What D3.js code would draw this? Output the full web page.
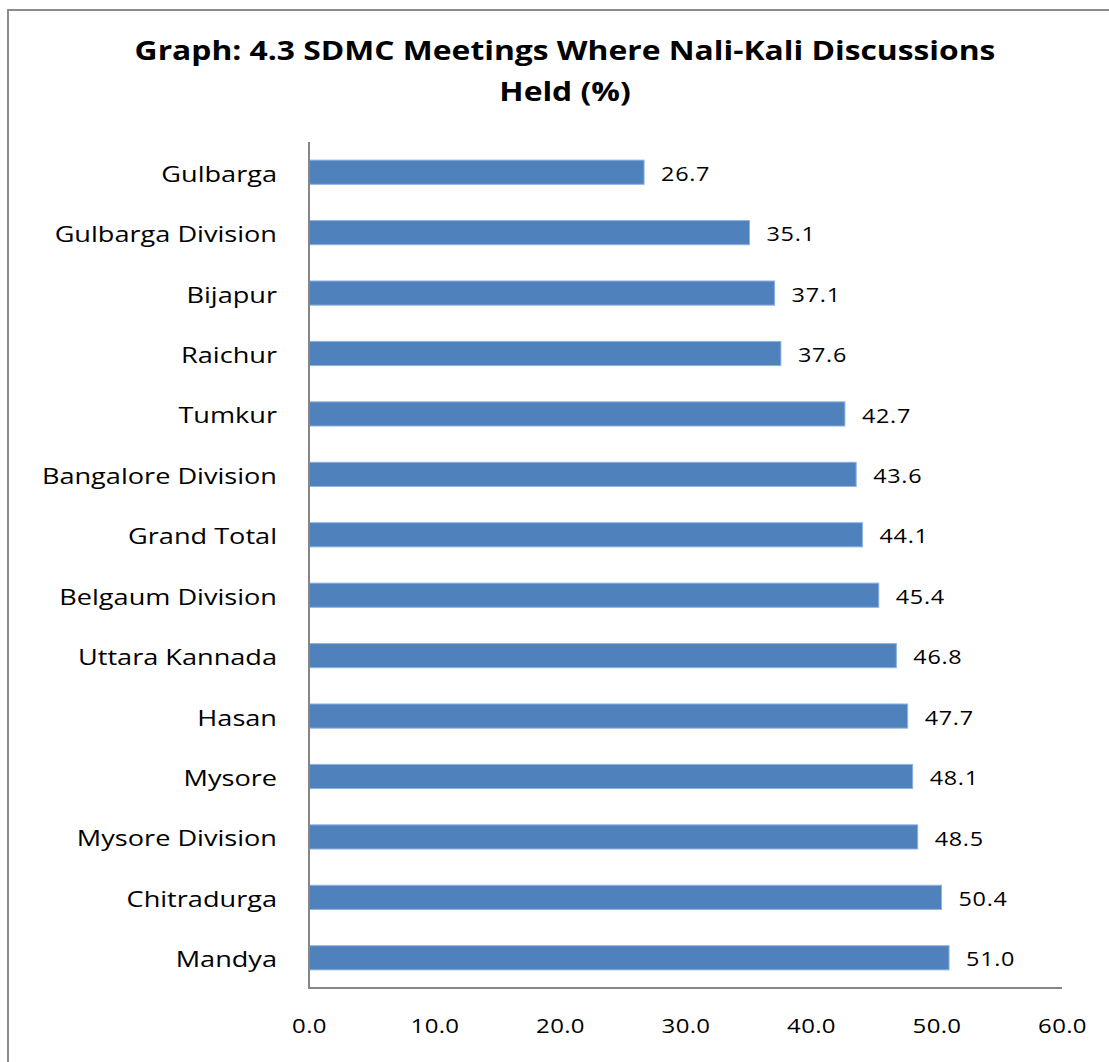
<!DOCTYPE html>
<html>
<head>
<meta charset="utf-8">
<script src="https://cdn.jsdelivr.net/npm/d3@7"></script>
<style>
  html, body { margin: 0; padding: 0; background: #fff; }
  svg { display: block; }
  text { font-family: "Open Sans", "Noto Sans", sans-serif; fill: #000; }
</style>
</head>
<body>
<script>
// SDMC meetings in which Nali-Kali was discussed, by district / division (%)
const districts = [
  "Gulbarga", "Gulbarga Division", "Bijapur", "Raichur", "Tumkur",
  "Bangalore Division", "Grand Total", "Belgaum Division", "Uttara Kannada",
  "Hasan", "Mysore", "Mysore Division", "Chitradurga", "Mandya"
];
const shares = [26.7, 35.1, 37.1, 37.6, 42.7, 43.6, 44.1, 45.4, 46.8, 47.7, 48.1, 48.5, 50.4, 51.0];
const xTicks = [0, 10, 20, 30, 40, 50, 60];
const titleLines = ["Graph: 4.3 SDMC Meetings Where Nali-Kali Discussions", "Held (%)"];

const W = 1109, H = 1062;
const plot = { left: 309, right: 1062, top: 142, bottom: 988 };
// all lettering is drawn slightly widened
const stretch = 1.2;
const wide = `scale(${stretch},1)`;

const svg = d3.select("body").append("svg")
  .attr("width", W).attr("height", H);

// chart frame (runs off the right and bottom edges)
svg.append("rect")
  .attr("x", 8).attr("y", 10)
  .attr("width", W + 20).attr("height", H + 20)
  .attr("fill", "#fff").attr("stroke", "#8c8c8c").attr("stroke-width", 2);

// title
svg.append("g").selectAll("text").data(titleLines).join("text")
  .attr("transform", (d, i) => `translate(565,${60 + i * 41}) ${wide}`)
  .attr("text-anchor", "middle")
  .style("font-weight", "bold").style("font-size", "26.5px")
  .text(d => d);

const x = d3.scaleLinear().domain([0, 60]).range([plot.left, plot.right]);
const y = d3.scaleBand().domain(districts).range([plot.top, plot.bottom]).paddingInner(0.6).paddingOuter(0.3);

// bars
svg.append("g").selectAll("rect").data(districts).join("rect")
  .attr("x", x(0))
  .attr("y", d => y(d))
  .attr("width", (d, i) => x(shares[i]) - x(0))
  .attr("height", y.bandwidth())
  .attr("fill", "#4f81bd")
  .attr("stroke", "#8db3e2").attr("stroke-width", 1);

// value labels
svg.append("g").selectAll("text").data(districts).join("text")
  .attr("transform", (d, i) => `translate(${x(shares[i]) + 17},${y(d) + y.bandwidth() / 2}) ${wide}`)
  .attr("dy", "0.44em")
  .style("font-size", "19.5px")
  .style("letter-spacing", "0.6px")
  .text((d, i) => shares[i].toFixed(1));

// category axis
const yPad = 32;
const yAxis = svg.append("g")
  .attr("transform", `translate(${plot.left},0)`)
  .call(d3.axisLeft(y).tickSize(0).tickPadding(yPad));
yAxis.select(".domain").attr("stroke", "#868686").attr("stroke-width", 2)
  .attr("d", `M0,${plot.top}V${plot.bottom}`);
yAxis.selectAll("text")
  .attr("x", -yPad / stretch)
  .attr("transform", wide)
  .style("font-size", "22.6px")
  .attr("dy", "0.42em").attr("fill", "#000");

// value axis
const xAxis = svg.append("g")
  .attr("transform", `translate(0,${plot.bottom})`)
  .call(d3.axisBottom(x).tickValues(xTicks).tickFormat(d3.format(".1f")).tickSize(0).tickPadding(31));
xAxis.select(".domain").attr("stroke", "#868686").attr("stroke-width", 2)
  .attr("d", `M${plot.left - 1},0H${plot.right}`);
xAxis.selectAll("text")
  .attr("transform", wide)
  .style("font-size", "20px").style("letter-spacing", "0.3px")
  .attr("fill", "#000");
</script>
</body>
</html>
